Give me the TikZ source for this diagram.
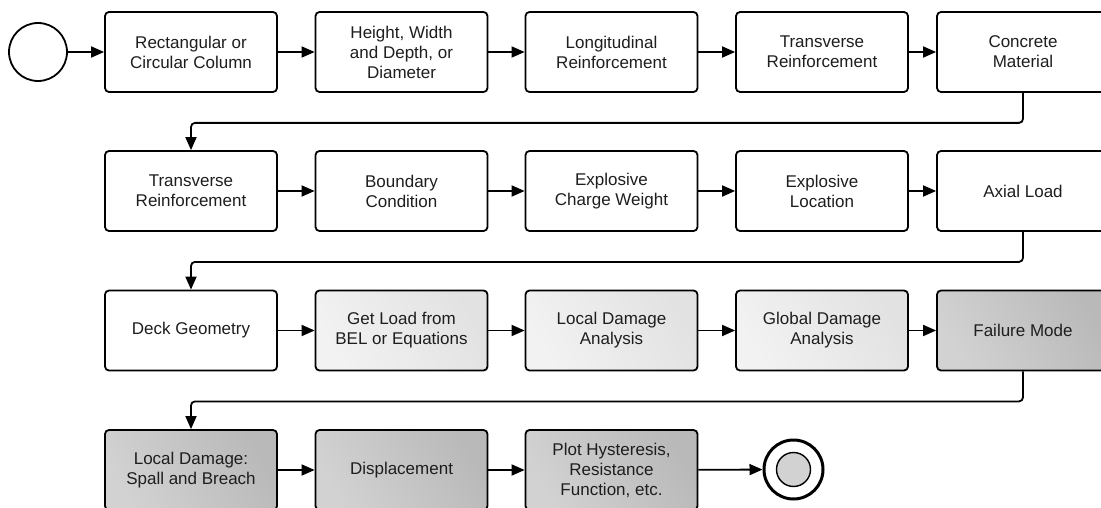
\documentclass[tikz,border=0pt]{standalone}
\usepackage{fontspec}
\setmainfont{Liberation Sans}
\usetikzlibrary{arrows.meta,positioning}
\definecolor{lightA}{HTML}{F2F2F2}
\definecolor{lightB}{HTML}{E2E2E2}
\definecolor{darkA}{HTML}{D2D2D2}
\definecolor{darkB}{HTML}{B9B9B9}
\definecolor{textgray}{HTML}{1E1E1E}
\tikzset{
  stepbox/.style={draw=black, line width=1.8pt, rounded corners=4pt,
    minimum width=172pt, minimum height=80pt, inner sep=2pt, align=center,
    text=textgray, font=\fontsize{17}{20}\selectfont, fill=white},
  lightbox/.style={stepbox, left color=lightA, right color=lightB, shading angle=120},
  darkbox/.style={stepbox, left color=darkA, right color=darkB, shading angle=120},
  flow/.style={line width=1.8pt, -{Triangle[length=13pt,width=11pt]}},
  turn/.style={flow, rounded corners=4pt},
  startev/.style={circle, draw=black, line width=1.8pt, minimum size=58pt, inner sep=0pt},
  endev/.style={circle, draw=black, line width=3pt, minimum size=59pt, inner sep=0pt},
  endcore/.style={circle, draw=black, line width=1.4pt, fill=darkA, minimum size=34pt, inner sep=0pt}
}
\begin{document}
\begin{tikzpicture}[x=1pt, y=-1pt]
\path[use as bounding box] (0,0) rectangle (1101,508);
\begin{scope}
\clip (0,0) rectangle (1101,508);

% row 1: column definition
\node[startev] (start) at (38,52) {};
\node[stepbox] (a1) at (191,52) {Rectangular or\\Circular Column};
\node[stepbox] (a2) at (401.5,52) {Height, Width\\and Depth, or\\Diameter};
\node[stepbox] (a3) at (611.5,52) {Longitudinal\\Reinforcement};
\node[stepbox] (a4) at (822,52) {Transverse\\Reinforcement};
\node[stepbox] (a5) at (1023,52) {Concrete\\Material};

% row 2: loading and supports
\node[stepbox] (b1) at (191,191) {Transverse\\Reinforcement};
\node[stepbox] (b2) at (401.5,191) {Boundary\\Condition};
\node[stepbox] (b3) at (611.5,191) {Explosive\\Charge Weight};
\node[stepbox] (b4) at (822,191) {Explosive\\Location};
\node[stepbox] (b5) at (1023,191) {Axial Load};

% row 3: analysis
\node[stepbox] (c1) at (191,330.5) {Deck Geometry};
\node[lightbox] (c2) at (401.5,330.5) {Get Load from\\BEL or Equations};
\node[lightbox] (c3) at (611.5,330.5) {Local Damage\\Analysis};
\node[lightbox] (c4) at (822,330.5) {Global Damage\\Analysis};
\node[darkbox] (c5) at (1023,330.5) {Failure Mode};

% row 4: results
\node[darkbox] (d1) at (191,470) {Local Damage:\\Spall and Breach};
\node[darkbox] (d2) at (401.5,470) {Displacement};
\node[darkbox] (d3) at (611.5,470) {Plot Hysteresis,\\Resistance\\Function, etc.};
\node[endev] (stop) at (793.5,469.5) {};
\node[endcore] (stopcore) at (stop.center) {};

% connectors within rows
\draw[flow] (start) -- (a1);
\draw[flow] (a1) -- (a2);
\draw[flow] (a2) -- (a3);
\draw[flow] (a3) -- (a4);
\draw[flow] (a4) -- (a5);
\draw[flow] (b1) -- (b2);
\draw[flow] (b2) -- (b3);
\draw[flow] (b3) -- (b4);
\draw[flow] (b4) -- (b5);
\draw[flow] (c1) -- (c2);
\draw[flow] (c2) -- (c3);
\draw[flow] (c3) -- (c4);
\draw[flow] (c4) -- (c5);
\draw[flow] (d1) -- (d2);
\draw[flow] (d2) -- (d3);
\draw[flow] (d3) -- (stop);

% connectors wrapping to the next row
\draw[turn] (a5.south) -- ++(0,30) -| (b1.north);
\draw[turn] (b5.south) -- ++(0,30) -| (c1.north);
\draw[turn] (c5.south) -- ++(0,30) -| (d1.north);
\end{scope}
\end{tikzpicture}
\end{document}
